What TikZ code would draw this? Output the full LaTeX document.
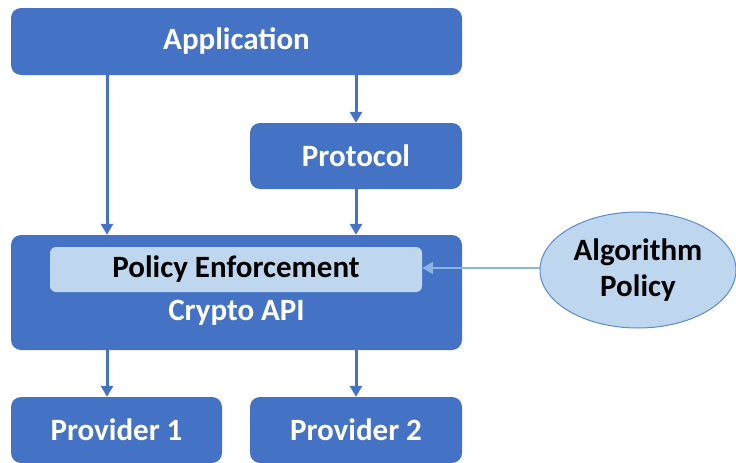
\documentclass[tikz,border=0pt]{standalone}
\usepackage{fontspec}
\setmainfont{Carlito}
\usetikzlibrary{arrows.meta,shapes.geometric}
\definecolor{boxblue}{RGB}{68,114,196}
\definecolor{paleblue}{RGB}{190,214,238}
\definecolor{linkblue}{RGB}{140,180,226}
\definecolor{rimblue}{RGB}{91,140,205}
\begin{document}
\begin{tikzpicture}[x=1pt,y=-1pt,
    bluebox/.style={draw=none,fill=boxblue,rounded corners=10pt,inner sep=0pt},
    palebox/.style={draw=none,fill=paleblue,rounded corners=6pt,inner sep=0pt},
    whitetxt/.style={text=white,font=\fontsize{31}{36}\selectfont\bfseries},
    blacktxt/.style={text=black,font=\fontsize{31}{36}\selectfont\bfseries},
    flow/.style={draw=boxblue,line width=3pt,-{Triangle[length=11pt,width=12pt]}},
    feed/.style={draw=linkblue,line width=2.8pt,-{Triangle[length=11pt,width=12pt]}}]
  \useasboundingbox (0,0) rectangle (736,463);
  \clip (0,0) rectangle (736,463);

  % Application layer
  \node [bluebox,whitetxt,minimum width=451pt,minimum height=67pt] (app) at (236.5,41.5) {Application};

  % Protocol
  \node [bluebox,whitetxt,minimum width=212pt,minimum height=66pt] (proto) at (356,156) {Protocol};

  % Crypto API with policy enforcement inside
  \node [bluebox,minimum width=451pt,minimum height=115pt] (crypto) at (236.5,292.5) {};
  \node [palebox,blacktxt,minimum width=372pt,minimum height=45pt] (enforce) at (236,269.5) {Policy Enforcement};
  \node [whitetxt] (cryptolbl) at (236.5,313) {Crypto API};

  % Providers
  \node [bluebox,whitetxt,minimum width=211pt,minimum height=66pt] (prov1) at (116.5,430) {Provider 1};
  \node [bluebox,whitetxt,minimum width=212pt,minimum height=66pt] (prov2) at (356,430) {Provider 2};

  % Algorithm policy
  \node [ellipse,draw=rimblue,line width=1pt,fill=paleblue,minimum width=196pt,minimum height=116pt,
         blacktxt,align=center,font=\fontsize{31}{36}\selectfont\bfseries] (algo) at (638,270) {Algorithm\\Policy};

  % Arrows
  \coordinate (lane) at (107,0);
  \draw [flow] (app.south -| lane) -- (crypto.north -| lane);
  \draw [flow] (app.south -| proto) -- (proto.north);
  \draw [flow] (proto.south) -- (crypto.north -| proto);
  \draw [flow] (crypto.south -| lane) -- (prov1.north -| lane);
  \draw [flow] (crypto.south -| prov2) -- (prov2.north);
  \draw [feed] (algo.west |- 0,268) -- (enforce.east |- 0,268);
\end{tikzpicture}
\end{document}
